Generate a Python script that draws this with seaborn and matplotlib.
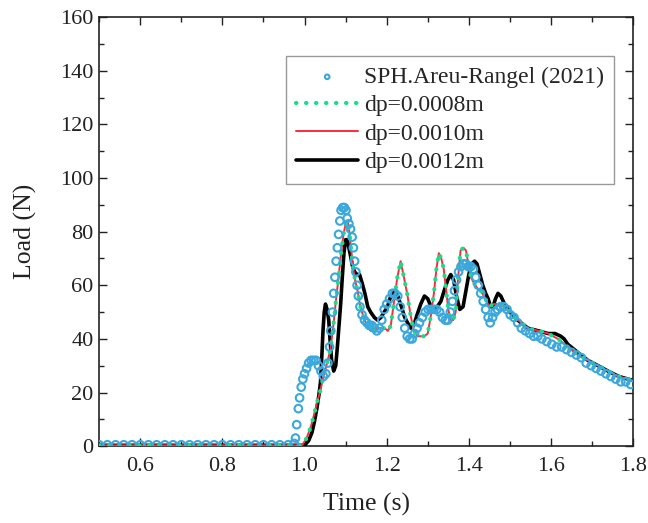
import numpy as np
import pandas as pd
import matplotlib
matplotlib.use("Agg")
import matplotlib.pyplot as plt
import seaborn as sns
from matplotlib.ticker import MultipleLocator

# ---- data ----
sph_t = [0.500, 0.520, 0.540, 0.560, 0.580, 0.600, 0.620, 0.640, 0.660, 0.680, 0.700, 0.720,
         0.740, 0.760, 0.780, 0.800, 0.820, 0.840, 0.860, 0.880, 0.900, 0.920, 0.940, 0.960,
         0.975, 0.978, 0.981, 0.985, 0.988, 0.992, 0.996, 1.000, 1.005, 1.010, 1.016, 1.022,
         1.028, 1.034, 1.040, 1.046, 1.052, 1.057, 1.061, 1.064, 1.068, 1.071, 1.074, 1.077,
         1.080, 1.083, 1.086, 1.089, 1.093, 1.097, 1.101, 1.104, 1.108, 1.112, 1.116, 1.119,
         1.122, 1.125, 1.128, 1.131, 1.135, 1.140, 1.146, 1.152, 1.158, 1.164, 1.170, 1.176,
         1.182, 1.188, 1.194, 1.200, 1.207, 1.214, 1.220, 1.227, 1.233, 1.238, 1.244, 1.250,
         1.256, 1.262, 1.268, 1.274, 1.280, 1.287, 1.294, 1.301, 1.308, 1.315, 1.322, 1.329,
         1.336, 1.343, 1.349, 1.355, 1.360, 1.365, 1.370, 1.375, 1.381, 1.387, 1.393, 1.399,
         1.405, 1.411, 1.417, 1.423, 1.429, 1.435, 1.441, 1.447, 1.452, 1.458, 1.464, 1.470,
         1.477, 1.485, 1.493, 1.501, 1.510, 1.519, 1.528, 1.538, 1.548, 1.558, 1.568, 1.578,
         1.590, 1.602, 1.614, 1.626, 1.638, 1.650, 1.662, 1.674, 1.686, 1.698, 1.710, 1.722,
         1.734, 1.746, 1.758, 1.770, 1.782, 1.794]
sph_load = [0.5, 0.5, 0.5, 0.5, 0.5, 0.5, 0.5, 0.5, 0.5, 0.5, 0.5, 0.5,
            0.5, 0.5, 0.5, 0.5, 0.5, 0.5, 0.5, 0.5, 0.5, 0.5, 0.5, 0.5,
            1, 3, 8, 14, 18, 22, 25, 27, 29, 31, 32, 32,
            32, 30, 28, 26, 27, 31, 37, 43, 50, 57, 63, 69,
            74, 79, 84, 88, 89, 89, 88, 85, 83, 81, 78, 74,
            69, 65, 60, 56, 52, 49, 47, 46, 45, 45, 44, 43,
            44, 47, 51, 53, 55, 57, 57, 56, 52, 48, 44, 41,
            40, 40, 42, 44, 46, 48, 50, 51, 51, 51, 51, 50,
            48, 47, 47, 50, 54, 58, 62, 65, 67, 68, 68, 67,
            67, 66, 63, 60, 57, 54, 51, 48, 46, 48, 50, 51,
            52, 52, 51, 49, 48, 46, 44, 43, 42, 41, 41, 40,
            39, 38, 37, 37, 36, 35, 34, 33, 31, 30, 29, 28,
            27, 26, 25, 24, 24, 23]

dp08_t = [0.50, 0.60, 0.70, 0.80, 0.90, 0.990, 0.995, 1.005, 1.015, 1.022, 1.030, 1.039,
          1.046, 1.055, 1.063, 1.067, 1.071, 1.077, 1.083, 1.089, 1.095, 1.100, 1.105, 1.110,
          1.117, 1.123, 1.129, 1.136, 1.144, 1.152, 1.161, 1.170, 1.178, 1.185, 1.195, 1.203,
          1.210, 1.218, 1.226, 1.234, 1.242, 1.251, 1.258, 1.266, 1.275, 1.283, 1.292, 1.300,
          1.308, 1.315, 1.321, 1.327, 1.333, 1.339, 1.345, 1.350, 1.356, 1.362, 1.368, 1.374,
          1.380, 1.387, 1.393, 1.399, 1.405, 1.412, 1.420, 1.429, 1.440, 1.450, 1.460, 1.471,
          1.485, 1.502, 1.520, 1.544, 1.570, 1.593, 1.617, 1.641, 1.665, 1.690, 1.715, 1.739,
          1.765, 1.788, 1.800]
dp08_load = [0.3, 0.3, 0.3, 0.3, 0.3, 0.3, 0.5, 3, 7, 11, 16, 21,
             26, 31, 36, 41, 46, 55, 63, 72, 79, 83, 84, 79,
             68, 62, 58, 52, 48, 45, 43, 43, 44, 44, 44, 43,
             45, 54, 63, 69, 63, 56, 49, 43, 41, 41, 41, 42,
             49, 57, 66, 72, 70, 66, 58, 51, 47, 47, 50, 63,
             73, 74, 73, 68, 63, 61, 59, 58, 55, 52, 53, 53,
             52, 50, 47, 44, 43, 42, 40, 37, 34, 32, 30, 28,
             26, 25, 24.5]

dp10_t = [0.50, 0.60, 0.70, 0.80, 0.90, 0.990, 0.995, 1.005, 1.015, 1.022, 1.030, 1.039,
          1.046, 1.055, 1.063, 1.067, 1.071, 1.077, 1.083, 1.089, 1.095, 1.100, 1.105, 1.110,
          1.117, 1.123, 1.129, 1.136, 1.144, 1.152, 1.161, 1.170, 1.178, 1.185, 1.195, 1.203,
          1.210, 1.218, 1.226, 1.234, 1.242, 1.251, 1.258, 1.266, 1.275, 1.283, 1.292, 1.300,
          1.308, 1.315, 1.321, 1.327, 1.333, 1.339, 1.345, 1.350, 1.356, 1.362, 1.368, 1.374,
          1.380, 1.387, 1.393, 1.399, 1.405, 1.412, 1.420, 1.429, 1.440, 1.450, 1.460, 1.471,
          1.485, 1.502, 1.520, 1.544, 1.570, 1.593, 1.617, 1.641, 1.665, 1.690, 1.715, 1.739,
          1.765, 1.788, 1.800]
dp10_load = [0.3, 0.3, 0.3, 0.3, 0.3, 0.3, 0.5, 3, 7, 11, 16, 21,
             26, 31, 36, 41, 46, 55, 63, 72, 79, 83, 84, 79,
             68, 62, 58, 52, 48, 45, 43, 43, 44, 44, 44, 43,
             45, 54, 63, 69, 63, 56, 49, 43, 41, 41, 41, 42,
             49, 57, 66, 72, 70, 66, 58, 51, 47, 47, 50, 63,
             73, 74, 73, 68, 63, 61, 59, 58, 55, 52, 53, 53,
             52, 50, 47, 44, 43, 42, 40, 37, 34, 32, 30, 28,
             26, 25, 24.5]

dp12_t = [0.50, 0.70, 0.90, 1.000, 1.010, 1.018, 1.024, 1.030, 1.035, 1.039, 1.042, 1.045,
          1.048, 1.051, 1.055, 1.059, 1.062, 1.066, 1.071, 1.076, 1.080, 1.084, 1.088, 1.092,
          1.096, 1.100, 1.104, 1.108, 1.112, 1.117, 1.122, 1.128, 1.134, 1.140, 1.147, 1.154,
          1.161, 1.170, 1.178, 1.186, 1.194, 1.202, 1.210, 1.218, 1.227, 1.236, 1.244, 1.251,
          1.259, 1.266, 1.274, 1.283, 1.292, 1.300, 1.308, 1.315, 1.323, 1.332, 1.340, 1.349,
          1.356, 1.363, 1.370, 1.378, 1.386, 1.393, 1.400, 1.407, 1.414, 1.420, 1.427, 1.434,
          1.441, 1.447, 1.453, 1.459, 1.465, 1.471, 1.478, 1.487, 1.500, 1.519, 1.544, 1.570,
          1.593, 1.610, 1.624, 1.632, 1.641, 1.665, 1.690, 1.715, 1.739, 1.765, 1.788, 1.800]
dp12_load = [0.3, 0.3, 0.3, 0.3, 2, 5, 9, 14, 19, 24, 33, 43,
             50, 53, 51, 47, 40, 32, 28, 30, 37, 45, 53, 63,
             72, 77, 77, 74, 71, 67, 65, 64, 64, 61, 57, 52,
             50, 48, 47, 48, 50, 52, 56, 58, 56, 52, 48, 46,
             44, 45, 49, 53, 56, 55, 52, 51, 52, 54, 58, 62,
             64, 62, 56, 51, 52, 58, 64, 68, 69, 68, 64, 60,
             57, 55, 52, 52, 55, 57, 56, 53, 50, 47, 44, 43,
             42, 42, 41, 40, 38, 35, 32, 30, 28, 26, 25, 24.5]

x_ticks = [0.6, 0.8, 1.0, 1.2, 1.4, 1.6, 1.8]
y_ticks = [0, 20, 40, 60, 80, 100, 120, 140, 160]

sph_df = pd.DataFrame({"t": sph_t, "load": sph_load})
d08 = pd.DataFrame({"t": dp08_t, "load": dp08_load})
d10 = pd.DataFrame({"t": dp10_t, "load": dp10_load})
d12 = pd.DataFrame({"t": dp12_t, "load": dp12_load})

sns.set_style("ticks")
plt.rcParams["font.family"] = ["Liberation Serif", "DejaVu Serif"]

fig = plt.figure(figsize=(6.48, 5.23), dpi=100)
ax = fig.add_axes([0.153, 0.147, 0.824, 0.820])

blue = "#3aa8dc"
green = "#14e08c"
red = "#ff2a3a"

sns.lineplot(data=d12, x="t", y="load", ax=ax, color="black", lw=2.6,
             label="dp=0.0012m", sort=False, zorder=3)
sns.lineplot(data=d10, x="t", y="load", ax=ax, color=red, lw=1.4,
             label="dp=0.0010m", sort=False, zorder=4)
sns.lineplot(data=d08, x="t", y="load", ax=ax, color=green, lw=3.0,
             label="dp=0.0008m", sort=False, zorder=5)
ax.lines[-1].set_linestyle((0, (0.1, 2.3)))
ax.lines[-1].set_dash_capstyle("round")
sns.scatterplot(data=sph_df, x="t", y="load", ax=ax, marker="o", s=30,
                facecolor="none", edgecolor=blue, linewidth=1.5,
                label="SPH.Areu-Rangel (2021)", zorder=6)

ax.set_xlim(0.5, 1.8)
ax.set_ylim(0, 160)
ax.set_xticks(x_ticks)
ax.set_xticklabels([f"{v:.1f}" for v in x_ticks])
ax.set_yticks(y_ticks)
ax.xaxis.set_minor_locator(MultipleLocator(0.1))
ax.yaxis.set_minor_locator(MultipleLocator(10))
ax.tick_params(which="both", direction="in", top=True, right=True,
               labelsize=16, width=1.0, colors="#222222", labelcolor="#222222")
ax.tick_params(which="major", length=6)
ax.tick_params(which="minor", length=3.5)
ax.tick_params(axis="x", which="major", pad=8)
ax.tick_params(axis="y", which="major", pad=4)
for s in ax.spines.values():
    s.set_linewidth(1.2)
    s.set_color("#222222")

ax.set_xlabel("Time (s)", fontsize=18.5, color="#222222", labelpad=12)
ax.set_ylabel("Load (N)", fontsize=18.5, color="#222222", labelpad=17)

handles, labels = ax.get_legend_handles_labels()
order = ["SPH.Areu-Rangel (2021)", "dp=0.0008m", "dp=0.0010m", "dp=0.0012m"]
hmap = dict(zip(labels, handles))
leg = ax.legend([hmap[k] for k in order], order, loc="upper right",
                bbox_to_anchor=(0.965, 0.91), fontsize=17, frameon=True,
                fancybox=False, edgecolor="#999999", framealpha=1,
                handlelength=2.6, handletextpad=0.25, borderpad=0.45,
                labelspacing=0.29, markerscale=0.6, borderaxespad=0)
leg.get_frame().set_linewidth(1.0)

fig.savefig("out.png", dpi=100)
